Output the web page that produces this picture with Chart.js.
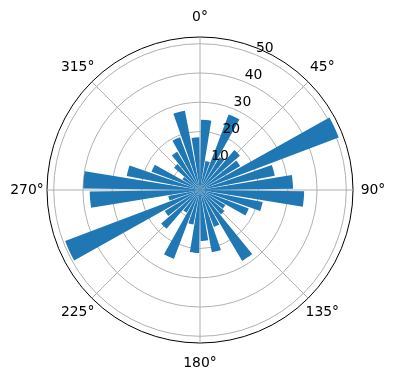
<!DOCTYPE html>
<html>
<head>
<meta charset="utf-8">
<style>
  html, body { margin: 0; padding: 0; background: #fff; }
</style>
</head>
<body>
<canvas id="rose" width="396" height="380"></canvas>

<script src="https://cdn.jsdelivr.net/npm/chart.js"></script>

<script>
  // bin centres in degrees, clockwise from north
  const directions = [5, 15, 25, 35, 45, 55, 65, 75, 85, 95, 105, 115,
                      125, 135, 145, 155, 165, 175, 185, 195, 205, 215, 225, 235,
                      245, 255, 265, 275, 285, 295, 305, 315, 325, 335, 345, 355]
  // bar heights
  const counts = [24, 10, 27.6, 13, 18, 16, 50.7, 26, 31.8, 35.6, 21.8, 17.8,
                  10, 11, 28.2, 13.5, 21.7, 17.4, 21.5, 12, 25.2, 9, 17.5, 14,
                  49.3, 11, 37.7, 39.9, 25.5, 17.7, 7, 11.7, 15.2, 19.3, 27.6, 18]
  const thetaLabels = ['0°', '45°', '90°', '135°', '180°', '225°', '270°', '315°']
  const rTicks = [10, 20, 30, 40, 50]
  const rMax = 52.3
  const barWidth = 8.5 // degrees

  // polarArea draws arcs one after another, so put empty arcs in the gaps
  const values = [], angles = [], colors = []
  let prevEnd = 0
  directions.forEach((d, i) => {
    values.push(0); angles.push(d - barWidth / 2 - prevEnd); colors.push('rgba(0,0,0,0)')
    values.push(counts[i]); angles.push(barWidth); colors.push('#1f77b4')
    prevEnd = d + barWidth / 2
  })
  values.push(0); angles.push(360 - prevEnd); colors.push('rgba(0,0,0,0)')

  const textPlugin = {
    id: 'polarText',
    afterDraw(chart) {
      const r = chart.scales.r
      const c = chart.ctx
      c.save()
      c.fillStyle = '#000'
      c.font = '13.9px "DejaVu Sans"'
      c.textAlign = 'center'
      c.textBaseline = 'middle'
      thetaLabels.forEach((t, i) => {
        const p = r.getPointPosition(i, r.drawingArea + 20)
        c.fillText(t, p.x, p.y)
      })
      const a = 22.5 * Math.PI / 180
      c.textAlign = 'left'
      c.textBaseline = 'alphabetic'
      rTicks.forEach(v => {
        const dist = r.getDistanceFromCenterForValue(v)
        c.fillText(String(v), r.xCenter + dist * Math.sin(a), r.yCenter - dist * Math.cos(a) - 3)
      })
      c.restore()
    }
  }

  const chart = new Chart(document.getElementById('rose').getContext('2d'), {
    type: 'polarArea',
    data: {
      labels: thetaLabels,
      datasets: [{
        data: values,
        angle: angles,
        backgroundColor: colors,
        borderWidth: 0,
      }]
    },
    options: {
      responsive: false,
      animation: false,
      layout: { padding: { left: 47, right: 43, top: 37, bottom: 37 } },
      plugins: { legend: { display: false }, tooltip: { enabled: false } },
      scales: {
        r: {
          min: 0,
          max: rMax,
          startAngle: 0,
          z: 1,
          afterBuildTicks: scale => {
            scale.ticks = [0, ...rTicks, rMax].map(v => ({ value: v }))
          },
          ticks: { display: false },
          pointLabels: { display: false },
          grid: {
            circular: true,
            color: ctx => ctx.tick && ctx.tick.value >= rMax ? '#000000' : '#b0b0b0',
            lineWidth: 1,
          },
          angleLines: { display: true, color: '#b0b0b0', lineWidth: 1 },
        }
      }
    },
    plugins: [textPlugin]
  });
</script>
</body>
</html>
